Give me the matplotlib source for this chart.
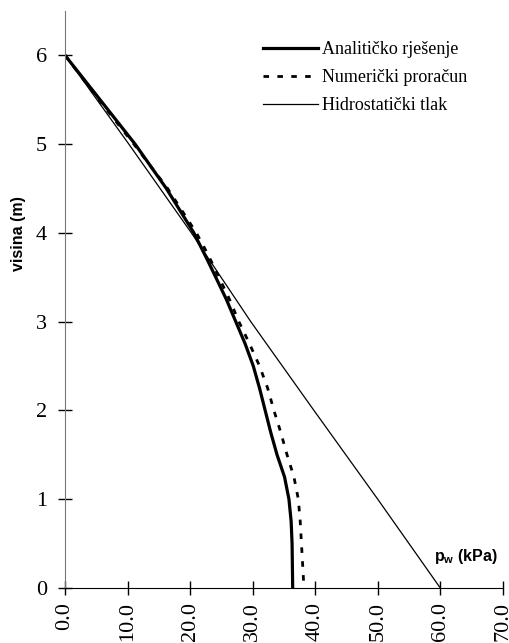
import matplotlib
matplotlib.use("Agg")
import matplotlib.pyplot as plt

# visina (m) / p_w (kPa)
h_anal = [6.0, 5.5, 5.0, 4.5, 4.0, 3.69, 3.5, 3.25, 3.0, 2.75, 2.5, 2.25, 2.0, 1.75,
          1.5, 1.25, 1.0, 0.75, 0.5, 0.25, 0.0]
p_anal = [0.0, 5.6, 11.2, 16.2, 20.6, 22.8, 24.1, 25.8, 27.3, 28.8, 30.1, 31.1, 32.0, 32.9,
          33.9, 35.1, 35.8, 36.15, 36.3, 36.35, 36.4]

h_num = [6.0, 5.5, 5.0, 4.5, 4.0, 3.75, 3.5, 3.25, 3.0, 2.75, 2.5, 2.25, 2.0, 1.75,
         1.5, 1.25, 1.0, 0.75, 0.5, 0.25, 0.0]
p_num = [0.0, 5.4, 11.0, 16.4, 21.0, 22.9, 24.6, 26.3, 27.8, 29.5, 31.1, 32.4, 33.4, 34.5,
         35.5, 36.6, 37.3, 37.6, 37.8, 38.0, 38.2]

h_hidro = [6.0, 5.0, 4.0, 3.0, 2.0, 1.0, 0.0]
p_hidro = [0.0, 10.2, 20.2, 29.7, 39.8, 50.0, 60.0]

labels = ["Analitičko rješenje", "Numerički proračun", "Hidrostatički tlak"]
xticks = [0, 10, 20, 30, 40, 50, 60, 70]
yticks = [0, 1, 2, 3, 4, 5, 6]

plt.rcParams["font.family"] = "Liberation Serif"
plt.rcParams["mathtext.fontset"] = "custom"
plt.rcParams["mathtext.rm"] = "Liberation Sans:bold"
plt.rcParams["mathtext.bf"] = "Liberation Sans:bold"

fig = plt.figure(figsize=(5.1, 6.43), dpi=100)
ax = fig.add_axes([0.1275, 0.0855, 0.8585, 0.8975])

ax.plot(p_anal, h_anal, color="black", lw=2.3, label=labels[0])
ax.plot(p_num, h_num, color="black", lw=2.0, ls=(0, (2, 3)), label=labels[1])
ax.plot(p_hidro, h_hidro, color="black", lw=0.9, label=labels[2])

ax.set_xlim(0, 70)
ax.set_ylim(0, 6.5)
ax.set_xticks(xticks)
ax.set_xticklabels(["%.1f" % t for t in xticks], rotation=90, fontsize=16)
ax.set_yticks(yticks)
ax.set_yticklabels([str(t) for t in yticks], fontsize=16)
ax.tick_params(direction="inout", length=10, width=1)
ax.tick_params(axis="y", pad=8)
ax.tick_params(axis="x", pad=5)

for s in ["top", "right"]:
    ax.spines[s].set_visible(False)
ax.spines["left"].set_color("#777777")

ax.set_ylabel("visina (m)", family="Liberation Sans", weight="bold", fontsize=11.5)
ax.yaxis.set_label_coords(-0.088, 0.615)

ax.text(64.1, 0.35, r"p$_\mathbf{w}$ (kPa)", family="Liberation Sans",
        weight="bold", fontsize=11.5, ha="center", va="center")

leg = ax.legend(loc="upper left", bbox_to_anchor=(0.453, 0.948), frameon=False,
                fontsize=13, handlelength=3.0, handletextpad=0.25,
                borderpad=0, borderaxespad=0, labelspacing=0.62)

fig.savefig("out.png", dpi=100)
